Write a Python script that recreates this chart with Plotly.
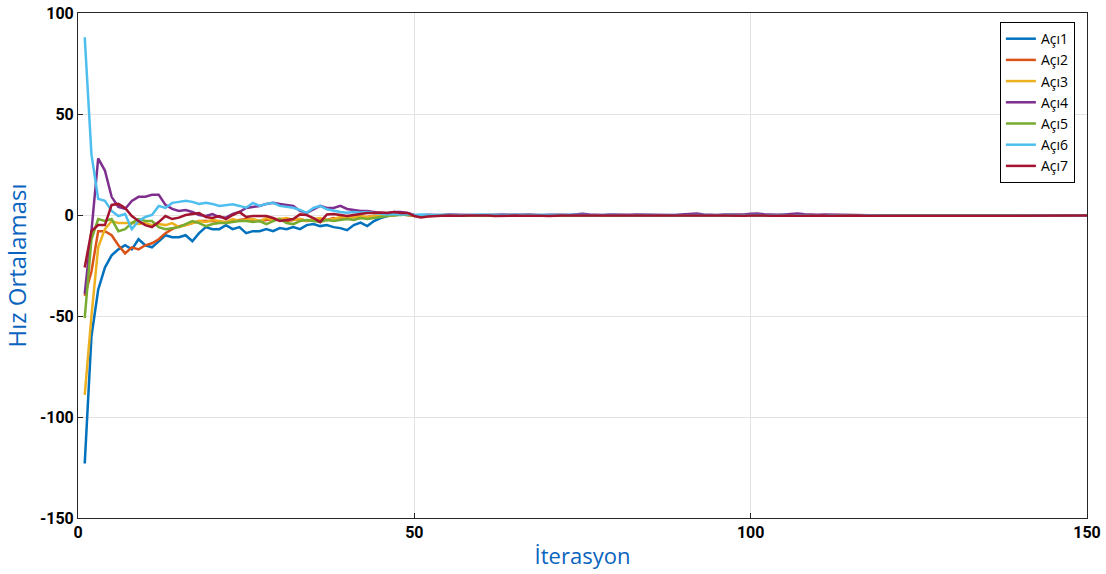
import plotly.graph_objects as go

iterations = list(range(1, 151))

# Iterations 1-50
aci1_head = [-123, -60, -37, -26, -20, -17, -15, -17, -12, -15,
             -16, -13, -10, -11, -11, -10, -13, -9, -6, -7,
             -7, -5, -7, -6, -9, -8, -8, -7, -8, -6.5,
             -7, -6, -7, -5, -4.5, -5.5, -5, -6, -6.5, -7.5,
             -5, -3.8, -5.5, -3, -1.5, -0.5, 0, 0.2, 0, -0.3]
aci2_head = [-40, -28, -8, -8, -10, -15, -19, -16, -17, -15,
             -14, -12, -9, -7, -5.5, -5, -4, -3, -3, -3,
             -3.5, -4, -3, -2.5, -2, -2.5, -3, -2.5, -2, -2,
             -3, -2.5, -2, -3, -2.5, -2, -2.5, -1.5, -2, -1.5,
             -1, -1.5, -1, -0.5, -0.5, 0, 0, 0.3, 0, -0.5]
aci3_head = [-89, -50, -16, -7, -3, -4, -4, -4, -4.5, -4,
             -5, -4.5, -5, -4, -6, -5, -4, -3, -3.5, -2.5,
             -3, -3.5, -2, -3, -2.5, -2, -3, -1.5, -2.5, -2,
             -1.5, -2.5, -2, -3, -2, -1.5, -2.5, -2, -1, -1.5,
             -1, -0.5, -1, -0.5, 0, -0.5, 0, 0.2, 0, -0.3]
aci4_head = [-39, -8, 28, 22, 9, 4, 3, 7, 9, 9,
             10, 10, 5, 3, 2, 2.5, 1.5, 0, -0.5, 0.5,
             -1, -1.3, 0.5, 1.5, 3.5, 4, 4.5, 5.5, 6, 5.5,
             5, 4.5, 2, 1, 2.8, 4.5, 3.5, 3.5, 4.5, 3,
             2.5, 2, 2, 1.5, 1, 1, 1.5, 1.5, 1, 0]
aci5_head = [-51, -12, -2, -3, -2, -8, -7, -4, -2, -3,
             -3, -6, -7, -6.5, -6, -4.5, -3, -4, -5.5, -4.5,
             -4, -4, -3.5, -3, -3, -3.5, -3, -4.5, -3, -2,
             -4, -4.5, -3, -2.5, -3, -3.5, -2.5, -3, -2.5, -2,
             -2.5, -1.5, -2, -1.5, -1, -0.5, 0, 0, 0.2, -0.3]
aci6_head = [88, 30, 8, 7, 2, -0.5, 0.5, -7, -3, -1,
             0, 4.5, 3.5, 6, 6.5, 7, 6.5, 5.5, 6, 5.5,
             4.5, 5, 5.3, 4.5, 3.6, 6, 4.5, 5.5, 6, 4.5,
             4, 3.6, 2.5, 1.1, 3.5, 4.5, 2.8, 2, 1.5, 1.1,
             1.5, 1.2, 1.5, 1, 0.8, 0.3, 0.5, 0.3, 0.5, 0]
aci7_head = [-26, -8, -5, -5, 5, 5.5, 3.5, -0.5, -3, -5,
             -6, -3.5, -0.5, -2, -1.3, 0, 0.5, 1, -1, -1.5,
             -0.5, -2, 0, 1.5, -1, -0.5, -0.5, -0.5, -1.5, -3,
             -2.5, -2, 0.3, 0, -1.5, -3.5, 0.3, 0.5, 0, -0.5,
             0, 0.5, 1, 1, 1.2, 1, 1.5, 1, 1, -0.5]

# Iterations 51-150 (nearly flat around zero)
aci1_tail = [-0.5, -0.3, -0.2, -0.4, -0.3, -0.1, -0.2, -0.3, -0.2, -0.4,
             -0.3, -0.2, -0.1, -0.3, -0.4, -0.2, -0.3, -0.2, -0.1, -0.3,
             -0.2, -0.4, -0.3, -0.2, -0.3, -0.1, -0.2, -0.3, -0.4, -0.2,
             -0.3, -0.2, -0.3, -0.1, -0.2, -0.3, -0.2, -0.4, -0.3, -0.2,
             -0.1, -0.3, -0.2, -0.3, -0.2, -0.1, -0.3, -0.2, -0.3, -0.2,
             -0.3, -0.2, -0.1, -0.2, -0.3, -0.2, -0.3, -0.1, -0.2, -0.3,
             -0.2, -0.3, -0.2, -0.1, -0.2, -0.3, -0.2, -0.3, -0.2, -0.2,
             -0.3, -0.2, -0.1, -0.2, -0.3, -0.2, -0.2, -0.3, -0.2, -0.1,
             -0.2, -0.3, -0.2, -0.2, -0.1, -0.2, -0.3, -0.2, -0.2, -0.3,
             -0.2, -0.1, -0.2, -0.2, -0.3, -0.2, -0.2, -0.1, -0.2, -0.2]
aci2_tail = [-0.6, -0.4, -0.3, -0.2, -0.4, -0.3, -0.2, -0.3, -0.4, -0.3,
             -0.2, -0.3, -0.4, -0.2, -0.3, -0.2, -0.4, -0.3, -0.2, -0.3,
             -0.4, -0.3, -0.2, -0.3, -0.2, -0.4, -0.3, -0.2, -0.3, -0.3,
             -0.2, -0.4, -0.3, -0.2, -0.3, -0.2, -0.3, -0.2, -0.4, -0.3,
             -0.2, -0.3, -0.2, -0.4, -0.3, -0.2, -0.3, -0.2, -0.3, -0.4,
             -0.3, -0.2, -0.3, -0.2, -0.3, -0.4, -0.3, -0.2, -0.3, -0.2,
             -0.3, -0.2, -0.3, -0.3, -0.2, -0.3, -0.2, -0.3, -0.3, -0.2,
             -0.3, -0.2, -0.3, -0.2, -0.3, -0.3, -0.2, -0.3, -0.2, -0.3,
             -0.2, -0.3, -0.3, -0.2, -0.3, -0.2, -0.3, -0.2, -0.3, -0.2,
             -0.3, -0.2, -0.3, -0.3, -0.2, -0.3, -0.2, -0.3, -0.2, -0.3]
aci3_tail = [-0.4, -0.3, -0.2, -0.3, -0.2, -0.3, -0.4, -0.2, -0.3, -0.2,
             -0.3, -0.2, -0.3, -0.4, -0.2, -0.3, -0.2, -0.3, -0.2, -0.4,
             -0.3, -0.2, -0.3, -0.2, -0.3, -0.2, -0.4, -0.3, -0.2, -0.3,
             -0.2, -0.3, -0.2, -0.3, -0.4, -0.2, -0.3, -0.2, -0.3, -0.2,
             -0.3, -0.4, -0.2, -0.3, -0.2, -0.3, -0.2, -0.3, -0.2, -0.3,
             -0.2, -0.3, -0.2, -0.3, -0.2, -0.3, -0.2, -0.3, -0.3, -0.2,
             -0.3, -0.2, -0.3, -0.2, -0.3, -0.2, -0.3, -0.2, -0.3, -0.2,
             -0.3, -0.2, -0.3, -0.2, -0.2, -0.3, -0.2, -0.3, -0.2, -0.3,
             -0.2, -0.3, -0.2, -0.3, -0.2, -0.3, -0.2, -0.3, -0.2, -0.3,
             -0.2, -0.3, -0.2, -0.3, -0.2, -0.3, -0.2, -0.3, -0.2, -0.3]
aci4_tail = [-0.2, 0.1, 0.0, -0.1, 0.2, 0.1, 0.0, 0.2, 0.1, -0.1,
             0.0, 0.2, 0.3, 0.1, 0.0, 0.1, 0.2, 0.0, -0.1, 0.1,
             0.2, 0.1, 0.0, 0.3, 0.6, 0.3, 0.1, 0.0, 0.2, 0.1,
             0.0, 0.1, 0.2, 0.1, 0.0, 0.2, 0.1, 0.0, 0.1, 0.2,
             0.5, 0.7, 0.3, 0.1, 0.0, 0.2, 0.1, 0.3, 0.2, 0.6,
             0.8, 0.4, 0.2, 0.1, 0.3, 0.5, 0.7, 0.4, 0.2, 0.1,
             0.3, 0.2, 0.1, 0.2, 0.1, 0.0, -0.1, -0.2, -0.2, -0.3,
             -0.2, -0.3, -0.2, -0.3, -0.2, -0.3, -0.2, -0.3, -0.2, -0.3,
             -0.2, -0.3, -0.2, -0.3, -0.2, -0.3, -0.2, -0.3, -0.2, -0.3,
             -0.2, -0.3, -0.2, -0.3, -0.2, -0.3, -0.2, -0.3, -0.2, -0.3]
aci5_tail = [-0.5, -0.3, -0.4, -0.2, -0.3, -0.4, -0.3, -0.2, -0.3, -0.4,
             -0.3, -0.2, -0.4, -0.3, -0.2, -0.3, -0.4, -0.2, -0.3, -0.2,
             -0.3, -0.4, -0.2, -0.3, -0.2, -0.3, -0.4, -0.3, -0.2, -0.3,
             -0.2, -0.3, -0.2, -0.4, -0.3, -0.2, -0.3, -0.2, -0.3, -0.4,
             -0.3, -0.2, -0.3, -0.2, -0.3, -0.2, -0.4, -0.3, -0.2, -0.3,
             -0.3, -0.2, -0.3, -0.2, -0.3, -0.3, -0.2, -0.3, -0.2, -0.3,
             -0.2, -0.3, -0.3, -0.2, -0.3, -0.2, -0.3, -0.2, -0.3, -0.3,
             -0.2, -0.3, -0.2, -0.3, -0.2, -0.3, -0.3, -0.2, -0.3, -0.2,
             -0.3, -0.2, -0.3, -0.3, -0.2, -0.3, -0.2, -0.3, -0.2, -0.3,
             -0.3, -0.2, -0.3, -0.2, -0.3, -0.2, -0.3, -0.3, -0.2, -0.3]
aci6_tail = [0.3, 0.1, 0.0, 0.1, 0.2, 0.0, -0.1, 0.1, 0.0, 0.2,
             0.1, 0.0, -0.1, 0.0, 0.1, 0.0, -0.1, 0.0, 0.1, 0.0,
             -0.1, 0.0, 0.1, 0.0, 0.1, 0.0, -0.1, 0.0, 0.1, 0.0,
             -0.1, 0.0, 0.1, 0.2, 0.0, -0.1, 0.0, 0.1, 0.0, -0.1,
             0.0, 0.1, 0.0, -0.1, 0.0, 0.1, 0.0, -0.1, 0.0, 0.1,
             0.0, -0.1, 0.0, 0.1, 0.0, -0.1, 0.0, -0.1, -0.2, -0.1,
             -0.2, -0.1, -0.2, -0.3, -0.2, -0.1, -0.2, -0.3, -0.2, -0.2,
             -0.3, -0.2, -0.2, -0.3, -0.2, -0.2, -0.3, -0.2, -0.2, -0.3,
             -0.2, -0.2, -0.3, -0.2, -0.2, -0.3, -0.2, -0.2, -0.3, -0.2,
             -0.2, -0.3, -0.2, -0.2, -0.3, -0.2, -0.2, -0.3, -0.2, -0.2]
aci7_tail = [-1.2, -0.8, -0.5, -0.4, -0.3, -0.5, -0.4, -0.3, -0.2, -0.4,
             -0.3, -0.5, -0.4, -0.2, -0.3, -0.4, -0.3, -0.2, -0.4, -0.5,
             -0.3, -0.2, -0.3, -0.4, -0.3, -0.2, -0.3, -0.4, -0.5, -0.3,
             -0.2, -0.3, -0.4, -0.3, -0.2, -0.4, -0.3, -0.2, -0.3, -0.4,
             -0.3, -0.2, -0.3, -0.4, -0.3, -0.2, -0.3, -0.5, -0.4, -0.3,
             -0.2, -0.3, -0.4, -0.3, -0.2, -0.3, -0.4, -0.3, -0.3, -0.4,
             -0.3, -0.4, -0.3, -0.3, -0.4, -0.3, -0.4, -0.4, -0.3, -0.4,
             -0.3, -0.4, -0.3, -0.4, -0.4, -0.3, -0.4, -0.3, -0.4, -0.3,
             -0.4, -0.3, -0.4, -0.4, -0.3, -0.2, -0.3, -0.4, -0.3, -0.4,
             -0.3, -0.4, -0.3, -0.3, -0.4, -0.3, -0.4, -0.3, -0.4, -0.3]

series_names = ["Açı1", "Açı2", "Açı3", "Açı4", "Açı5", "Açı6", "Açı7"]
series_values = [
    aci1_head + aci1_tail,
    aci2_head + aci2_tail,
    aci3_head + aci3_tail,
    aci4_head + aci4_tail,
    aci5_head + aci5_tail,
    aci6_head + aci6_tail,
    aci7_head + aci7_tail,
]
colors = ["#0072BD", "#D95319", "#EDB120", "#7E2F8E", "#77AC30", "#4DBEEE", "#A2142F"]

x_ticks = [0, 50, 100, 150]
x_tick_labels = ["0", "50", "100", "150"]
y_ticks = [-150, -100, -50, 0, 50, 100]
y_tick_labels = ["-150", "-100", "-50", "0", "50", "100"]

fig = go.Figure()
for name, vals, col in zip(series_names, series_values, colors):
    fig.add_trace(go.Scatter(x=iterations, y=vals, mode="lines", name=name,
                             line=dict(color=col, width=2.5)))

axis_common = dict(
    showgrid=True, gridcolor="#e3e3e3", gridwidth=1,
    showline=True, linecolor="#262626", linewidth=1, mirror=True,
    ticks="inside", ticklen=5, tickcolor="#262626",
    tickfont=dict(family="Roboto", size=16, color="#000000", weight="bold"),
    zeroline=False, automargin=False, ticklabeloverflow="allow",
)

fig.update_layout(
    width=1106, height=574,
    margin=dict(l=78, r=19, t=13, b=56, autoexpand=False),
    paper_bgcolor="white", plot_bgcolor="white",
    showlegend=True,
    legend=dict(x=0.988, y=0.982, xanchor="right", yanchor="top",
                bgcolor="white", bordercolor="#000000", borderwidth=1,
                font=dict(family="Open Sans", size=14, color="#000000"),
                itemwidth=30, tracegroupgap=0),
)
fig.update_xaxes(range=[0, 150], tickvals=x_ticks, ticktext=x_tick_labels,
                 title=dict(text="İterasyon", standoff=7,
                            font=dict(family="Open Sans", size=22, color="#0a64be")),
                 **axis_common)
fig.update_yaxes(range=[-150, 100], tickvals=y_ticks, ticktext=y_tick_labels,
                 title=dict(text="Hız Ortalaması", standoff=16,
                            font=dict(family="Open Sans", size=24, color="#0a64be")),
                 **axis_common)

# Remove the browser's default page margin so the figure fills the window.
fig.write_html("out.html", config={"displayModeBar": False},
               post_script="document.body.style.margin='0px';")
